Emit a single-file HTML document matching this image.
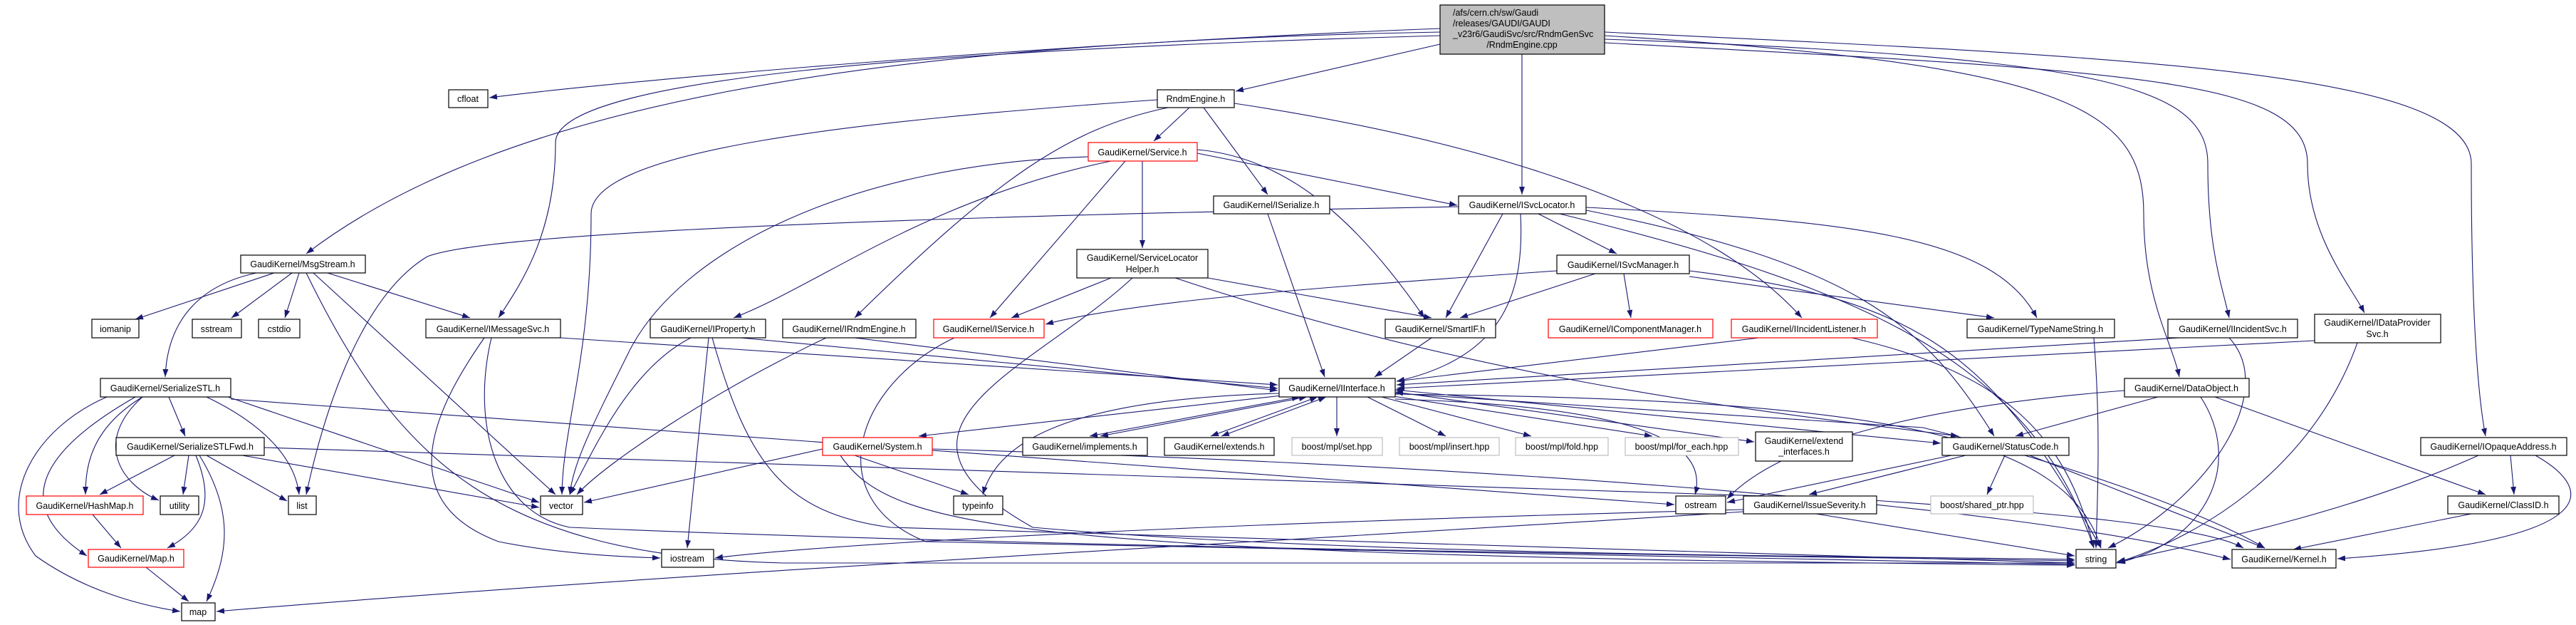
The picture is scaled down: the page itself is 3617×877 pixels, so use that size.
<!DOCTYPE html>
<html><head><meta charset="utf-8"><style>
html,body{margin:0;padding:0;background:#fff;}
svg{display:block;}
text{font-family:"Liberation Sans",sans-serif;font-size:12.5px;fill:#000;text-anchor:middle;}
.e{fill:none;stroke:#191970;stroke-width:1.1;marker-end:url(#a);}
.b{marker-start:url(#s);}
.n{fill:#fff;stroke:#000;stroke-width:1.2;}
.r{fill:#fff;stroke:#ff0000;stroke-width:1.2;}
.g{fill:#fff;stroke:#bfbfbf;stroke-width:1.2;}
</style></head><body>
<svg width="3617" height="877" viewBox="0 0 3617 877" xmlns="http://www.w3.org/2000/svg">
<defs>
<marker id="a" markerWidth="11" markerHeight="8" refX="11" refY="4" orient="auto" markerUnits="userSpaceOnUse"><path d="M0,0 L11,4 L0,8z" fill="#191970"/></marker>
<marker id="s" markerWidth="11" markerHeight="8" refX="0" refY="4" orient="auto" markerUnits="userSpaceOnUse"><path d="M11,0 L0,4 L11,8z" fill="#191970"/></marker>
</defs>
<g>
<!-- root edges -->
<path class="e" d="M2022,40 C1500,60 900,110 687,137"/>
<path class="e" d="M2022,62 L1735,128"/>
<path class="e" d="M2022,45 C1200,60 700,150 430,356"/>
<path class="e" d="M2022,50 C1300,70 780,110 780,200 C780,330 730,400 700,446"/>
<path class="e" d="M2137,76 L2137,273"/>
<path class="e" d="M2253,50 C2900,90 3010,150 3010,300 C3010,420 3050,480 3060,529"/>
<path class="e" d="M2253,55 C2950,80 3100,120 3100,230 C3100,350 3120,400 3130,446"/>
<path class="e" d="M2253,60 C3000,100 3240,110 3240,230 C3240,330 3300,400 3320,439"/>
<path class="e" d="M2253,45 C3000,80 3470,100 3470,230 C3470,450 3480,560 3490,612"/>
<!-- RndmEngine.h -->
<path class="e" d="M1670,151 L1620,198"/>
<path class="e" d="M1690,151 L1780,273"/>
<path class="e" d="M1640,151 C1500,180 1400,250 1200,446"/>
<path class="e" d="M1625,140 C1200,170 830,210 830,300 C830,500 790,600 789,694"/>
<path class="e" d="M1733,145 C2100,200 2400,300 2530,446"/>
<!-- Service.h -->
<path class="e" d="M1580,226 L1390,446"/>
<path class="e" d="M1604,226 L1604,348"/>
<path class="e" d="M1681,215 L2046,288"/>
<path class="e" d="M1681,210 C1800,220 1900,300 2000,446"/>
<path class="e" d="M1560,226 C1300,280 1150,400 1030,446"/>
<path class="e" d="M1528,220 C1200,230 950,350 880,500 C830,600 805,650 800,694"/>
<!-- ISerialize -->
<path class="e" d="M1780,300 L1860,529"/>
<!-- ISvcLocator -->
<path class="e" d="M2048,290 C1500,300 700,320 600,360 C500,420 450,600 430,694"/>
<path class="e" d="M2110,300 L2030,446"/>
<path class="e" d="M2135,300 C2140,400 2120,500 1961,535"/>
<path class="e" d="M2160,300 L2270,356"/>
<path class="e" d="M2227,291 C2600,310 2800,330 2860,446"/>
<path class="e" d="M2190,300 C2600,400 2850,500 2940,769"/>
<path class="e" d="M2227,295 C2600,370 2700,450 2800,612"/>
<!-- SLHelper -->
<path class="e" d="M1560,390 L1420,446"/>
<path class="e" d="M1696,390 L2010,446"/>
<path class="e" d="M1590,390 C1450,520 1200,600 1450,740 C1900,780 2600,780 2913,785"/>
<path class="e" d="M1650,390 C2100,540 2500,580 2750,612"/>
<!-- ISvcManager -->
<path class="e" d="M2186,380 C1900,400 1600,420 1468,455"/>
<path class="e" d="M2240,384 L2050,446"/>
<path class="e" d="M2280,384 L2290,446"/>
<path class="e" d="M2372,388 L2800,446"/>
<path class="e" d="M2372,380 C2700,420 2800,500 2950,769"/>
<!-- MsgStream -->
<path class="e" d="M385,383 L190,448"/>
<path class="e" d="M410,383 L325,446"/>
<path class="e" d="M420,383 L400,446"/>
<path class="e" d="M360,383 C280,400 235,450 232,529"/>
<path class="e" d="M460,383 L660,446"/>
<path class="e" d="M440,383 L780,694"/>
<path class="e" d="M430,383 C560,650 700,780 1100,790 L2913,790"/>
<!-- IMessageSvc -->
<path class="e" d="M787,474 L1794,540"/>
<path class="e" d="M680,474 C620,560 540,700 700,760 C800,780 900,782 927,783"/>
<path class="e" d="M690,474 C660,600 700,720 800,740 C1500,770 2500,780 2913,787"/>
<!-- IProperty -->
<path class="e" d="M1040,474 L1794,545"/>
<path class="e" d="M970,474 C880,520 830,640 800,694"/>
<path class="e" d="M995,474 L965,769"/>
<path class="e" d="M1000,474 C1050,650 1100,720 1250,740 L2913,790"/>
<!-- IRndmEngine -->
<path class="e" d="M1200,474 L1794,548"/>
<path class="e" d="M1160,474 C1000,550 850,650 810,694"/>
<!-- IService -->
<path class="e" d="M1340,474 C1200,540 1150,700 1300,760 L2913,792"/>
<!-- misc to IInterface / string -->
<path class="e" d="M2010,474 L1930,529"/>
<path class="e" d="M2470,474 L1961,535"/>
<path class="e" d="M2600,474 C2800,520 2900,600 2940,769"/>
<path class="e" d="M3060,474 L1961,540"/>
<path class="e" d="M3130,474 C3200,550 3100,700 2960,769"/>
<path class="e" d="M3250,478 L1961,545"/>
<path class="e" d="M3310,481 C3250,650 3100,750 2971,790"/>
<path class="e" d="M2940,474 C2950,600 2945,700 2943,769"/>
<!-- SerializeSTL -->
<path class="e" d="M237,557 L260,612"/>
<path class="e" d="M200,557 C130,600 120,650 120,694"/>
<path class="e" d="M200,557 C130,620 170,680 223,702"/>
<path class="e" d="M290,557 C380,600 415,650 420,694"/>
<path class="e" d="M190,557 C80,620 0,700 122,780"/>
<path class="e" d="M150,557 C50,600 -10,700 50,780 C120,830 200,850 253,858"/>
<path class="e" d="M320,557 L757,705"/>
<path class="e" d="M324,560 L2351,708"/>
<!-- SerializeSTLFwd -->
<path class="e" d="M245,639 L140,694"/>
<path class="e" d="M265,639 L257,694"/>
<path class="e" d="M290,639 L403,703"/>
<path class="e" d="M275,639 C300,700 290,740 235,769"/>
<path class="e" d="M280,639 C330,720 320,780 290,844"/>
<path class="e" d="M340,639 L757,712"/>
<path class="e" d="M371,628 L2600,700 C2900,720 3100,740 3150,769"/>
<path class="e" d="M130,722 L170,769"/>
<path class="e" d="M205,796 L265,844"/>
<!-- IInterface -->
<path class="e" d="M1800,555 L1290,612"/>
<path class="e b" d="M1825,557 L1530,612"/>
<path class="e b" d="M1545,612 L1835,557"/>
<path class="e b" d="M1850,557 L1700,612"/>
<path class="e b" d="M1715,612 L1862,557"/>
<path class="e" d="M1877,557 L1877,612"/>
<path class="e" d="M1920,557 L2030,612"/>
<path class="e" d="M1940,557 L2150,612"/>
<path class="e" d="M1950,555 L2320,612"/>
<path class="e b" d="M1959,550 L2463,620"/>
<path class="e b" d="M2725,622 L1959,547"/>
<path class="e" d="M1796,552 C1500,560 1400,620 1380,694"/>
<path class="e" d="M1959,560 C2300,570 2400,620 2380,694"/>
<path class="e" d="M1959,553 C2600,560 2900,600 2950,769"/>
<path class="e" d="M1959,552 L2700,600 C2900,650 3100,720 3180,769"/>
<!-- System -->
<path class="e" d="M1155,630 L820,705"/>
<path class="e" d="M1200,639 L1360,694"/>
<path class="e" d="M1180,639 C1250,740 1400,780 2913,793"/>
<path class="e" d="M1309,630 C2000,650 2800,700 3132,785"/>
<!-- DataObject -->
<path class="e" d="M3030,557 L2830,612"/>
<path class="e" d="M3090,557 C3150,650 3100,760 2973,790"/>
<path class="e" d="M3110,557 L3490,694"/>
<path class="e" d="M2983,548 C2700,570 2500,620 2425,700"/>
<!-- StatusCode -->
<path class="e" d="M2740,639 L2425,705"/>
<path class="e" d="M2760,639 L2540,694"/>
<path class="e" d="M2815,639 L2790,694"/>
<path class="e" d="M2850,639 L3180,769"/>
<!-- IssueSeverity -->
<path class="e" d="M2448,715 C1500,740 1100,770 1004,783"/>
<path class="e" d="M2550,721 L2913,780"/>
<path class="e" d="M2448,718 C1800,760 1000,800 304,858"/>
<!-- IOpaqueAddress -->
<path class="e" d="M3525,639 L3530,694"/>
<path class="e" d="M3560,639 C3650,690 3650,760 3282,784"/>
<path class="e" d="M3480,639 C3300,720 3100,760 2973,788"/>
<path class="e" d="M3470,721 L3220,771"/>
</g>
<g>
<rect x="2022" y="7" width="231" height="69" fill="#bfbfbf" stroke="#000" stroke-width="1.2"/>
<text x="2040" y="22" style="text-anchor:start">/afs/cern.ch/sw/Gaudi</text>
<text x="2040" y="37" style="text-anchor:start">/releases/GAUDI/GAUDI</text>
<text x="2040" y="52" style="text-anchor:start">_v23r6/GaudiSvc/src/RndmGenSvc</text>
<text x="2137" y="67">/RndmEngine.cpp</text>

<rect class="n" x="630" y="126" width="55" height="25"/><text x="657" y="143">cfloat</text>
<rect class="n" x="1625" y="126" width="108" height="25"/><text x="1679" y="143">RndmEngine.h</text>
<rect class="r" x="1528" y="200" width="153" height="26"/><text x="1604" y="218">GaudiKernel/Service.h</text>
<rect class="n" x="1704" y="275" width="163" height="25"/><text x="1785" y="292">GaudiKernel/ISerialize.h</text>
<rect class="n" x="2048" y="275" width="179" height="25"/><text x="2137" y="292">GaudiKernel/ISvcLocator.h</text>
<rect class="n" x="338" y="358" width="175" height="25"/><text x="425" y="375">GaudiKernel/MsgStream.h</text>
<rect class="n" x="1512" y="350" width="184" height="40"/><text x="1604" y="366">GaudiKernel/ServiceLocator</text><text x="1604" y="382">Helper.h</text>
<rect class="n" x="2186" y="358" width="186" height="26"/><text x="2279" y="376">GaudiKernel/ISvcManager.h</text>
<rect class="n" x="129" y="448" width="66" height="26"/><text x="162" y="466">iomanip</text>
<rect class="n" x="270" y="448" width="69" height="26"/><text x="304" y="466">sstream</text>
<rect class="n" x="363" y="448" width="58" height="26"/><text x="392" y="466">cstdio</text>
<rect class="n" x="598" y="448" width="189" height="26"/><text x="692" y="466">GaudiKernel/IMessageSvc.h</text>
<rect class="n" x="913" y="448" width="162" height="26"/><text x="994" y="466">GaudiKernel/IProperty.h</text>
<rect class="n" x="1099" y="448" width="187" height="26"/><text x="1192" y="466">GaudiKernel/IRndmEngine.h</text>
<rect class="r" x="1311" y="448" width="155" height="26"/><text x="1388" y="466">GaudiKernel/IService.h</text>
<rect class="n" x="1945" y="448" width="155" height="26"/><text x="2022" y="466">GaudiKernel/SmartIF.h</text>
<rect class="r" x="2174" y="448" width="231" height="26"/><text x="2289" y="466">GaudiKernel/IComponentManager.h</text>
<rect class="r" x="2431" y="448" width="205" height="26"/><text x="2533" y="466">GaudiKernel/IIncidentListener.h</text>
<rect class="n" x="2762" y="448" width="207" height="26"/><text x="2865" y="466">GaudiKernel/TypeNameString.h</text>
<rect class="n" x="3044" y="448" width="182" height="26"/><text x="3135" y="466">GaudiKernel/IIncidentSvc.h</text>
<rect class="n" x="3250" y="441" width="177" height="40"/><text x="3338" y="457">GaudiKernel/IDataProvider</text><text x="3338" y="473">Svc.h</text>
<rect class="n" x="141" y="531" width="183" height="26"/><text x="232" y="549">GaudiKernel/SerializeSTL.h</text>
<rect class="n" x="1796" y="531" width="163" height="26"/><text x="1877" y="549">GaudiKernel/IInterface.h</text>
<rect class="n" x="2983" y="531" width="175" height="26"/><text x="3070" y="549">GaudiKernel/DataObject.h</text>
<rect class="n" x="163" y="614" width="208" height="25"/><text x="267" y="631">GaudiKernel/SerializeSTLFwd.h</text>
<rect class="r" x="1155" y="614" width="154" height="25"/><text x="1232" y="631">GaudiKernel/System.h</text>
<rect class="n" x="1436" y="614" width="175" height="25"/><text x="1523" y="631">GaudiKernel/implements.h</text>
<rect class="n" x="1635" y="614" width="154" height="25"/><text x="1712" y="631">GaudiKernel/extends.h</text>
<rect class="g" x="1814" y="614" width="127" height="25"/><text x="1877" y="631">boost/mpl/set.hpp</text>
<rect class="g" x="1965" y="614" width="140" height="25"/><text x="2035" y="631">boost/mpl/insert.hpp</text>
<rect class="g" x="2128" y="614" width="130" height="25"/><text x="2193" y="631">boost/mpl/fold.hpp</text>
<rect class="g" x="2282" y="614" width="159" height="25"/><text x="2361" y="631">boost/mpl/for_each.hpp</text>
<rect class="n" x="2465" y="606" width="136" height="41"/><text x="2533" y="623">GaudiKernel/extend</text><text x="2533" y="638">_interfaces.h</text>
<rect class="n" x="2727" y="614" width="178" height="25"/><text x="2816" y="631">GaudiKernel/StatusCode.h</text>
<rect class="n" x="3399" y="614" width="205" height="25"/><text x="3501" y="631">GaudiKernel/IOpaqueAddress.h</text>
<rect class="r" x="37" y="696" width="164" height="26"/><text x="119" y="714">GaudiKernel/HashMap.h</text>
<rect class="n" x="225" y="696" width="54" height="26"/><text x="252" y="714">utility</text>
<rect class="n" x="405" y="696" width="39" height="26"/><text x="424" y="714">list</text>
<rect class="n" x="759" y="696" width="59" height="26"/><text x="788" y="714">vector</text>
<rect class="n" x="1339" y="696" width="69" height="26"/><text x="1373" y="714">typeinfo</text>
<rect class="n" x="2353" y="696" width="70" height="25"/><text x="2388" y="713">ostream</text>
<rect class="n" x="2448" y="696" width="187" height="25"/><text x="2541" y="713">GaudiKernel/IssueSeverity.h</text>
<rect class="g" x="2711" y="696" width="144" height="25"/><text x="2783" y="713">boost/shared_ptr.hpp</text>
<rect class="n" x="3437" y="696" width="156" height="25"/><text x="3515" y="713">GaudiKernel/ClassID.h</text>
<rect class="r" x="124" y="771" width="134" height="25"/><text x="191" y="788">GaudiKernel/Map.h</text>
<rect class="n" x="929" y="771" width="73" height="25"/><text x="965" y="788">iostream</text>
<rect class="n" x="2915" y="771" width="56" height="26"/><text x="2943" y="789">string</text>
<rect class="n" x="3134" y="771" width="146" height="26"/><text x="3207" y="789">GaudiKernel/Kernel.h</text>
<rect class="n" x="255" y="846" width="47" height="25"/><text x="278" y="863">map</text>
</g>
</svg>
</body></html>
